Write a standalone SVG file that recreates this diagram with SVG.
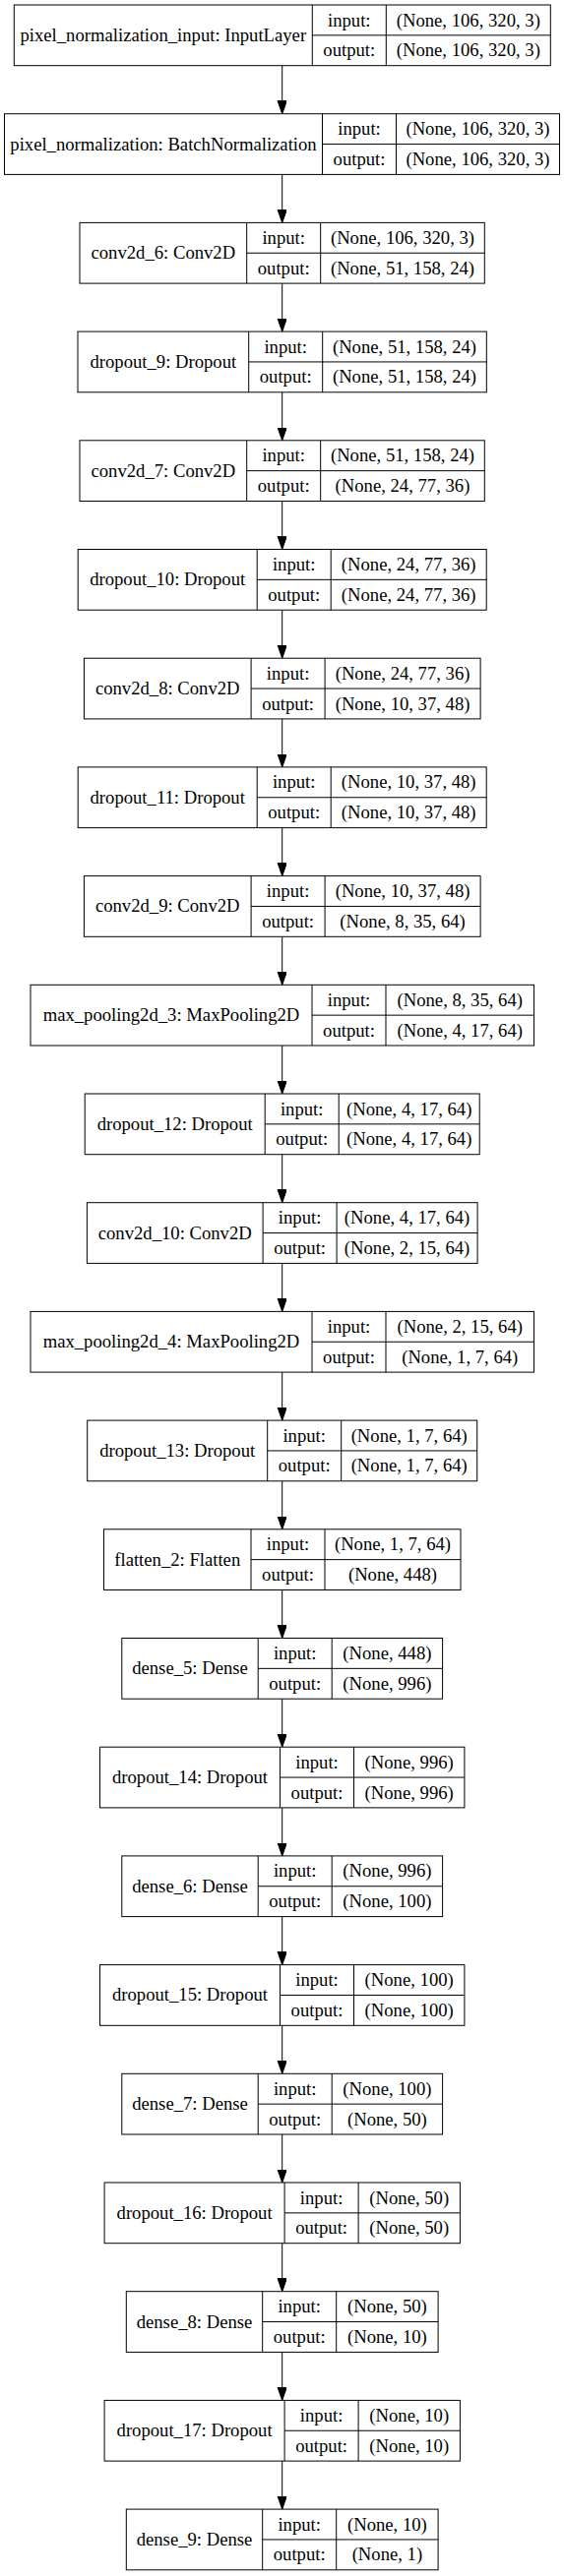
<svg xmlns="http://www.w3.org/2000/svg" width="573" height="2619" viewBox="0 0 573 2619">
<defs>
<style>
.n rect{fill:#fff;stroke:#000;stroke-width:1}
.n path{fill:none;stroke:#000;stroke-width:1}
text{font-family:"Liberation Serif","Times New Roman",serif;font-size:18.67px;text-anchor:middle;fill:#000}
.e line{stroke:#000;stroke-width:1}
</style>
<marker id="ah" markerUnits="userSpaceOnUse" markerWidth="14" markerHeight="10" refX="13.3" refY="4.67" orient="auto" viewBox="0 0 14 10">
<path d="M0,0 L13.3,4.67 L0,9.33 Z" fill="#000" stroke="#000" stroke-width="1"/>
</marker>
</defs>
<rect x="0" y="0" width="573" height="2619" fill="#fff"/>
<g id="connectors" class="e" marker-end="url(#ah)">
<line x1="286.7" y1="66.7" x2="286.7" y2="115.7" marker-end="url(#ah)"/>
<line x1="286.7" y1="177.4" x2="286.7" y2="226.4" marker-end="url(#ah)"/>
<line x1="286.7" y1="288.1" x2="286.7" y2="337.1" marker-end="url(#ah)"/>
<line x1="286.7" y1="398.8" x2="286.7" y2="447.8" marker-end="url(#ah)"/>
<line x1="286.7" y1="509.5" x2="286.7" y2="558.5" marker-end="url(#ah)"/>
<line x1="286.7" y1="620.2" x2="286.7" y2="669.2" marker-end="url(#ah)"/>
<line x1="286.7" y1="730.9" x2="286.7" y2="779.9" marker-end="url(#ah)"/>
<line x1="286.7" y1="841.6" x2="286.7" y2="890.6" marker-end="url(#ah)"/>
<line x1="286.7" y1="952.3" x2="286.7" y2="1001.3" marker-end="url(#ah)"/>
<line x1="286.7" y1="1063.0" x2="286.7" y2="1112.0" marker-end="url(#ah)"/>
<line x1="286.7" y1="1173.7" x2="286.7" y2="1222.7" marker-end="url(#ah)"/>
<line x1="286.7" y1="1284.4" x2="286.7" y2="1333.4" marker-end="url(#ah)"/>
<line x1="286.7" y1="1395.1" x2="286.7" y2="1444.1" marker-end="url(#ah)"/>
<line x1="286.7" y1="1505.8" x2="286.7" y2="1554.8" marker-end="url(#ah)"/>
<line x1="286.7" y1="1616.5" x2="286.7" y2="1665.5" marker-end="url(#ah)"/>
<line x1="286.7" y1="1727.2" x2="286.7" y2="1776.2" marker-end="url(#ah)"/>
<line x1="286.7" y1="1837.9" x2="286.7" y2="1886.9" marker-end="url(#ah)"/>
<line x1="286.7" y1="1948.6" x2="286.7" y2="1997.6" marker-end="url(#ah)"/>
<line x1="286.7" y1="2059.3" x2="286.7" y2="2108.3" marker-end="url(#ah)"/>
<line x1="286.7" y1="2170.0" x2="286.7" y2="2219.0" marker-end="url(#ah)"/>
<line x1="286.7" y1="2280.7" x2="286.7" y2="2329.7" marker-end="url(#ah)"/>
<line x1="286.7" y1="2391.4" x2="286.7" y2="2440.4" marker-end="url(#ah)"/>
<line x1="286.7" y1="2502.1" x2="286.7" y2="2551.1" marker-end="url(#ah)"/>
</g>

<g id="pixel_normalization_input" class="n" transform="translate(0,5)">
<rect x="14.3" y="0" width="545" height="61.7"/>
<path d="M317.3,0V61.7M392.3,0V61.7M317.3,30.85H559.3"/>
<text x="165.8" y="36.9">pixel_normalization_input: InputLayer</text>
<text x="354.8" y="21.6">input:</text><text x="354.8" y="52.4">output:</text>
<text x="475.8" y="21.6">(None, 106, 320, 3)</text><text x="475.8" y="52.4">(None, 106, 320, 3)</text>
</g>

<g id="pixel_normalization" class="n" transform="translate(0,115.7)">
<rect x="4.5" y="0" width="564" height="61.7"/>
<path d="M327.5,0V61.7M402.5,0V61.7M327.5,30.85H568.5"/>
<text x="166" y="36.9">pixel_normalization: BatchNormalization</text>
<text x="365" y="21.6">input:</text><text x="365" y="52.4">output:</text>
<text x="485.5" y="21.6">(None, 106, 320, 3)</text><text x="485.5" y="52.4">(None, 106, 320, 3)</text>
</g>

<g id="conv2d_6" class="n" transform="translate(0,226.4)">
<rect x="81" y="0" width="411.3" height="61.7"/>
<path d="M250.7,0V61.7M325.7,0V61.7M250.7,30.85H492.3"/>
<text x="165.85" y="36.9">conv2d_6: Conv2D</text>
<text x="288.2" y="21.6">input:</text><text x="288.2" y="52.4">output:</text>
<text x="409" y="21.6">(None, 106, 320, 3)</text><text x="409" y="52.4">(None, 51, 158, 24)</text>
</g>

<g id="dropout_9" class="n" transform="translate(0,337.1)">
<rect x="79" y="0" width="415.3" height="61.7"/>
<path d="M252.7,0V61.7M327.7,0V61.7M252.7,30.85H494.3"/>
<text x="165.85" y="36.9">dropout_9: Dropout</text>
<text x="290.2" y="21.6">input:</text><text x="290.2" y="52.4">output:</text>
<text x="411" y="21.6">(None, 51, 158, 24)</text><text x="411" y="52.4">(None, 51, 158, 24)</text>
</g>

<g id="conv2d_7" class="n" transform="translate(0,447.8)">
<rect x="81" y="0" width="411.3" height="61.7"/>
<path d="M250.7,0V61.7M325.7,0V61.7M250.7,30.85H492.3"/>
<text x="165.85" y="36.9">conv2d_7: Conv2D</text>
<text x="288.2" y="21.6">input:</text><text x="288.2" y="52.4">output:</text>
<text x="409" y="21.6">(None, 51, 158, 24)</text><text x="409" y="52.4">(None, 24, 77, 36)</text>
</g>

<g id="dropout_10" class="n" transform="translate(0,558.5)">
<rect x="79.2" y="0" width="415" height="61.7"/>
<path d="M261.2,0V61.7M336.2,0V61.7M261.2,30.85H494.2"/>
<text x="170.2" y="36.9">dropout_10: Dropout</text>
<text x="298.7" y="21.6">input:</text><text x="298.7" y="52.4">output:</text>
<text x="415.2" y="21.6">(None, 24, 77, 36)</text><text x="415.2" y="52.4">(None, 24, 77, 36)</text>
</g>

<g id="conv2d_8" class="n" transform="translate(0,669.2)">
<rect x="85.4" y="0" width="402.7" height="61.7"/>
<path d="M255.1,0V61.7M330.1,0V61.7M255.1,30.85H488.1"/>
<text x="170.25" y="36.9">conv2d_8: Conv2D</text>
<text x="292.6" y="21.6">input:</text><text x="292.6" y="52.4">output:</text>
<text x="409.1" y="21.6">(None, 24, 77, 36)</text><text x="409.1" y="52.4">(None, 10, 37, 48)</text>
</g>

<g id="dropout_11" class="n" transform="translate(0,779.9)">
<rect x="79.2" y="0" width="415" height="61.7"/>
<path d="M261.2,0V61.7M336.2,0V61.7M261.2,30.85H494.2"/>
<text x="170.2" y="36.9">dropout_11: Dropout</text>
<text x="298.7" y="21.6">input:</text><text x="298.7" y="52.4">output:</text>
<text x="415.2" y="21.6">(None, 10, 37, 48)</text><text x="415.2" y="52.4">(None, 10, 37, 48)</text>
</g>

<g id="conv2d_9" class="n" transform="translate(0,890.6)">
<rect x="85.4" y="0" width="402.7" height="61.7"/>
<path d="M255.1,0V61.7M330.1,0V61.7M255.1,30.85H488.1"/>
<text x="170.25" y="36.9">conv2d_9: Conv2D</text>
<text x="292.6" y="21.6">input:</text><text x="292.6" y="52.4">output:</text>
<text x="409.1" y="21.6">(None, 10, 37, 48)</text><text x="409.1" y="52.4">(None, 8, 35, 64)</text>
</g>

<g id="max_pooling2d_3" class="n" transform="translate(0,1001.3)">
<rect x="31" y="0" width="511.5" height="61.7"/>
<path d="M317,0V61.7M392,0V61.7M317,30.85H542.5"/>
<text x="174" y="36.9">max_pooling2d_3: MaxPooling2D</text>
<text x="354.5" y="21.6">input:</text><text x="354.5" y="52.4">output:</text>
<text x="467.25" y="21.6">(None, 8, 35, 64)</text><text x="467.25" y="52.4">(None, 4, 17, 64)</text>
</g>

<g id="dropout_12" class="n" transform="translate(0,1112)">
<rect x="86.2" y="0" width="401" height="61.7"/>
<path d="M269.2,0V61.7M344.2,0V61.7M269.2,30.85H487.2"/>
<text x="177.7" y="36.9">dropout_12: Dropout</text>
<text x="306.7" y="21.6">input:</text><text x="306.7" y="52.4">output:</text>
<text x="415.7" y="21.6">(None, 4, 17, 64)</text><text x="415.7" y="52.4">(None, 4, 17, 64)</text>
</g>

<g id="conv2d_10" class="n" transform="translate(0,1222.7)">
<rect x="88.4" y="0" width="396.7" height="61.7"/>
<path d="M267.1,0V61.7M342.1,0V61.7M267.1,30.85H485.1"/>
<text x="177.75" y="36.9">conv2d_10: Conv2D</text>
<text x="304.6" y="21.6">input:</text><text x="304.6" y="52.4">output:</text>
<text x="413.6" y="21.6">(None, 4, 17, 64)</text><text x="413.6" y="52.4">(None, 2, 15, 64)</text>
</g>

<g id="max_pooling2d_4" class="n" transform="translate(0,1333.4)">
<rect x="31" y="0" width="511.5" height="61.7"/>
<path d="M317,0V61.7M392,0V61.7M317,30.85H542.5"/>
<text x="174" y="36.9">max_pooling2d_4: MaxPooling2D</text>
<text x="354.5" y="21.6">input:</text><text x="354.5" y="52.4">output:</text>
<text x="467.25" y="21.6">(None, 2, 15, 64)</text><text x="467.25" y="52.4">(None, 1, 7, 64)</text>
</g>

<g id="dropout_13" class="n" transform="translate(0,1444.1)">
<rect x="88.7" y="0" width="396" height="61.7"/>
<path d="M271.7,0V61.7M346.7,0V61.7M271.7,30.85H484.7"/>
<text x="180.2" y="36.9">dropout_13: Dropout</text>
<text x="309.2" y="21.6">input:</text><text x="309.2" y="52.4">output:</text>
<text x="415.7" y="21.6">(None, 1, 7, 64)</text><text x="415.7" y="52.4">(None, 1, 7, 64)</text>
</g>

<g id="flatten_2" class="n" transform="translate(0,1554.8)">
<rect x="105.5" y="0" width="362.5" height="61.7"/>
<path d="M255,0V61.7M330,0V61.7M255,30.85H468"/>
<text x="180.25" y="36.9">flatten_2: Flatten</text>
<text x="292.5" y="21.6">input:</text><text x="292.5" y="52.4">output:</text>
<text x="399" y="21.6">(None, 1, 7, 64)</text><text x="399" y="52.4">(None, 448)</text>
</g>

<g id="dense_5" class="n" transform="translate(0,1665.5)">
<rect x="123.8" y="0" width="325.8" height="61.7"/>
<path d="M262.2,0V61.7M337.2,0V61.7M262.2,30.85H449.6"/>
<text x="193" y="36.9">dense_5: Dense</text>
<text x="299.7" y="21.6">input:</text><text x="299.7" y="52.4">output:</text>
<text x="393.4" y="21.6">(None, 448)</text><text x="393.4" y="52.4">(None, 996)</text>
</g>

<g id="dropout_14" class="n" transform="translate(0,1776.2)">
<rect x="101.5" y="0" width="370.4" height="61.7"/>
<path d="M284.5,0V61.7M359.5,0V61.7M284.5,30.85H471.9"/>
<text x="193" y="36.9">dropout_14: Dropout</text>
<text x="322" y="21.6">input:</text><text x="322" y="52.4">output:</text>
<text x="415.7" y="21.6">(None, 996)</text><text x="415.7" y="52.4">(None, 996)</text>
</g>

<g id="dense_6" class="n" transform="translate(0,1886.9)">
<rect x="123.8" y="0" width="325.8" height="61.7"/>
<path d="M262.2,0V61.7M337.2,0V61.7M262.2,30.85H449.6"/>
<text x="193" y="36.9">dense_6: Dense</text>
<text x="299.7" y="21.6">input:</text><text x="299.7" y="52.4">output:</text>
<text x="393.4" y="21.6">(None, 996)</text><text x="393.4" y="52.4">(None, 100)</text>
</g>

<g id="dropout_15" class="n" transform="translate(0,1997.6)">
<rect x="101.5" y="0" width="370.4" height="61.7"/>
<path d="M284.5,0V61.7M359.5,0V61.7M284.5,30.85H471.9"/>
<text x="193" y="36.9">dropout_15: Dropout</text>
<text x="322" y="21.6">input:</text><text x="322" y="52.4">output:</text>
<text x="415.7" y="21.6">(None, 100)</text><text x="415.7" y="52.4">(None, 100)</text>
</g>

<g id="dense_7" class="n" transform="translate(0,2108.3)">
<rect x="123.8" y="0" width="325.8" height="61.7"/>
<path d="M262.2,0V61.7M337.2,0V61.7M262.2,30.85H449.6"/>
<text x="193" y="36.9">dense_7: Dense</text>
<text x="299.7" y="21.6">input:</text><text x="299.7" y="52.4">output:</text>
<text x="393.4" y="21.6">(None, 100)</text><text x="393.4" y="52.4">(None, 50)</text>
</g>

<g id="dropout_16" class="n" transform="translate(0,2219)">
<rect x="106.1" y="0" width="361.3" height="61.7"/>
<path d="M289.1,0V61.7M364.1,0V61.7M289.1,30.85H467.4"/>
<text x="197.6" y="36.9">dropout_16: Dropout</text>
<text x="326.6" y="21.6">input:</text><text x="326.6" y="52.4">output:</text>
<text x="415.75" y="21.6">(None, 50)</text><text x="415.75" y="52.4">(None, 50)</text>
</g>

<g id="dense_8" class="n" transform="translate(0,2329.7)">
<rect x="128.3" y="0" width="316.8" height="61.7"/>
<path d="M266.7,0V61.7M341.7,0V61.7M266.7,30.85H445.1"/>
<text x="197.5" y="36.9">dense_8: Dense</text>
<text x="304.2" y="21.6">input:</text><text x="304.2" y="52.4">output:</text>
<text x="393.4" y="21.6">(None, 50)</text><text x="393.4" y="52.4">(None, 10)</text>
</g>

<g id="dropout_17" class="n" transform="translate(0,2440.4)">
<rect x="106.1" y="0" width="361.3" height="61.7"/>
<path d="M289.1,0V61.7M364.1,0V61.7M289.1,30.85H467.4"/>
<text x="197.6" y="36.9">dropout_17: Dropout</text>
<text x="326.6" y="21.6">input:</text><text x="326.6" y="52.4">output:</text>
<text x="415.75" y="21.6">(None, 10)</text><text x="415.75" y="52.4">(None, 10)</text>
</g>

<g id="dense_9" class="n" transform="translate(0,2551.1)">
<rect x="128.3" y="0" width="316.8" height="61.7"/>
<path d="M266.7,0V61.7M341.7,0V61.7M266.7,30.85H445.1"/>
<text x="197.5" y="36.9">dense_9: Dense</text>
<text x="304.2" y="21.6">input:</text><text x="304.2" y="52.4">output:</text>
<text x="393.4" y="21.6">(None, 10)</text><text x="393.4" y="52.4">(None, 1)</text>
</g>
</svg>
